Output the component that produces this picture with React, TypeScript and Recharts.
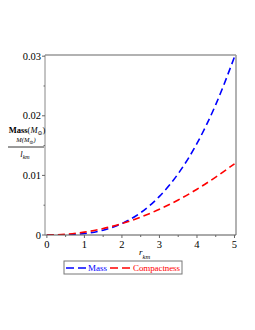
import { Line, LineChart, ReferenceLine, XAxis, YAxis } from "recharts";

const radius = [0, 0.5, 1, 1.5, 2, 2.5, 3, 3.5, 4, 4.5, 5];
const mass = [0, 0.00003, 0.00024, 0.00081, 0.00192, 0.00375, 0.00648, 0.01029, 0.01536, 0.02187, 0.0299];
const compactness = [0, 0.00012, 0.00048, 0.00108, 0.00192, 0.003, 0.00432, 0.00588, 0.00768, 0.00972, 0.01195];
const xTicks = [0, 0.5, 1, 1.5, 2, 2.5, 3, 3.5, 4, 4.5, 5];
const yTicks = [0, 0.005, 0.01, 0.015, 0.02, 0.025, 0.03];
const yMajor = ["0", "0.01", "0.02", "0.03"];

const data = radius.map((r, i) => ({ r, mass: mass[i], compactness: compactness[i] }));

const X_DOMAIN: [number, number] = [-0.05, 5.04];
const Y_DOMAIN: [number, number] = [0, 0.0302];
const FONT = "'Liberation Serif', 'DejaVu Serif', serif";

function XTick(props: any) {
  const { x, y, payload } = props;
  const major = Number.isInteger(payload.value);
  return (
    <g>
      <line x1={x} x2={x} y1={y} y2={y + (major ? 3 : 2)} stroke="#666" />
      {major && (
        <text x={x} y={y + 13} textAnchor="middle" fontSize={10.5} fontFamily={FONT} fill="#000">
          {payload.value}
        </text>
      )}
    </g>
  );
}

function YTick(props: any) {
  const { x, y, payload } = props;
  const label = yMajor.find((t) => Math.abs(Number(t) - payload.value) < 1e-9);
  return (
    <g>
      <line x1={x} x2={x - (label ? 3 : 1.5)} y1={y} y2={y} stroke="#666" />
      {label && (
        <text x={x - 4} y={y + 3.5} textAnchor="end" fontSize={10.5} fontFamily={FONT} fill="#000">
          {label}
        </text>
      )}
    </g>
  );
}

function YLabel() {
  return (
    <g fontFamily={FONT} fill="#000">
      <text x={27} y={133} textAnchor="middle" fontSize={8.5}>
        <tspan fontWeight="bold">Mass</tspan>
        <tspan>(</tspan>
        <tspan fontStyle="italic">M</tspan>
        <tspan fontSize={6} dy={2}>⊙</tspan>
        <tspan dy={-2}>)</tspan>
      </text>
      <text x={26} y={142} textAnchor="middle" fontSize={6.5} fontStyle="italic">
        M(M<tspan fontSize={5} dy={1.5}>⊙</tspan>
        <tspan dy={-1.5}>)</tspan>
      </text>
      <line x1={8} x2={44} y1={147} y2={147} stroke="#000" strokeWidth={0.8} />
      <text x={25} y={157} textAnchor="middle" fontSize={8.5} fontStyle="italic">
        l<tspan fontSize={6} dy={2}>km</tspan>
      </text>
    </g>
  );
}

function XLabel() {
  return (
    <g fontFamily={FONT} fill="#000">
      <text x={139} y={255} fontSize={9} fontStyle="italic">
        r<tspan fontSize={6.5} dy={4}>km</tspan>
      </text>
    </g>
  );
}

function LegendBox() {
  return (
    <svg
      width={120}
      height={16}
      style={{ position: "absolute", left: 63, top: 260, fontFamily: FONT }}
    >
      <rect x={1} y={1} width={118} height={13} fill="#fff" stroke="#777" />
      <line x1={3} x2={24} y1={8} y2={8} stroke="#0000ff" strokeWidth={1.5} strokeDasharray="8 4" />
      <text x={25} y={11} fontSize={9} fill="#0000ff">Mass</text>
      <line x1={47} x2={69} y1={8} y2={8} stroke="#ff0000" strokeWidth={1.5} strokeDasharray="8 4" />
      <text x={70} y={11} fontSize={9} fill="#ff0000" textLength={47}>Compactness</text>
    </svg>
  );
}

export default function App() {
  return (
    <div style={{ position: "fixed", left: 0, top: 0, width: 255, height: 330, background: "#fff" }}>
      <LineChart width={255} height={330} data={data} margin={{ top: 55, right: 19, bottom: 65, left: 0 }}>
        <XAxis
          dataKey="r"
          type="number"
          domain={X_DOMAIN}
          ticks={xTicks}
          tick={<XTick />}
          tickLine={false}
          tickSize={0}
          tickMargin={0}
          height={30}
          stroke="#555"
          interval={0}
          allowDataOverflow
          label={<XLabel />}
        />
        <YAxis
          type="number"
          domain={Y_DOMAIN}
          ticks={yTicks}
          tick={<YTick />}
          tickLine={false}
          tickSize={0}
          tickMargin={0}
          width={45}
          stroke="#888"
          interval={0}
          allowDataOverflow
          label={<YLabel />}
        />
        <ReferenceLine y={Y_DOMAIN[1]} stroke="#999" strokeWidth={1.5} />
        <ReferenceLine x={X_DOMAIN[1]} stroke="#999" strokeWidth={1.5} />
        <Line
          type="monotone"
          dataKey="mass"
          name="Mass"
          stroke="#0000ff"
          strokeWidth={1.6}
          strokeDasharray="7 4"
          dot={false}
          isAnimationActive={false}
        />
        <Line
          type="monotone"
          dataKey="compactness"
          name="Compactness"
          stroke="#ff0000"
          strokeWidth={1.6}
          strokeDasharray="7 4"
          dot={false}
          isAnimationActive={false}
        />
      </LineChart>
      <LegendBox />
    </div>
  );
}
